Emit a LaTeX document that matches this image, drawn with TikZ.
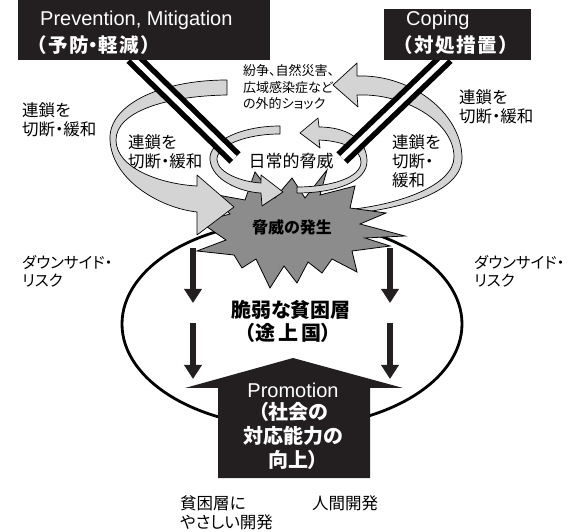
\documentclass[tikz,border=0pt]{standalone}
\usepackage{fontspec}
\setmainfont{Liberation Sans}
\newfontfamily\jp[RawFeature=+palt]{Noto Sans CJK JP}
\newfontfamily\jpf{Noto Sans CJK JP}
\usetikzlibrary{arrows.meta}
\definecolor{bandgray}{RGB}{212,212,212}
\definecolor{stargray}{RGB}{140,140,140}
\definecolor{boxblack}{RGB}{35,31,32}
\newcommand{\ks}{\kern1.5pt}
\begin{document}
\begin{tikzpicture}[x=1pt,y=-1pt,
  band/.style={fill=bandgray,draw=black,line width=0.7pt,line join=round},
  rails/.style={draw=black,double=white,line width=5.5pt,double distance=5pt},
  downarrow/.style={draw=boxblack,line width=6.5pt,-{Triangle[width=17pt,length=14pt]}},
  blackbox/.style={fill=boxblack,inner sep=0pt},
  lbl/.style={inner sep=0pt,align=left,anchor=west,font=\jp\fontsize{16.5}{19}\selectfont},
  small/.style={inner sep=0pt,align=left,anchor=west,font=\jp\fontsize{13}{16.5}\selectfont},
  risk/.style={inner sep=0pt,align=left,anchor=west,font=\jp\fontsize{15.5}{18}\selectfont},
  boxen/.style={inner sep=0pt,anchor=west,text=white,font=\fontsize{20}{24}\selectfont},
  boxjp/.style={inner sep=0pt,anchor=west,text=white,font=\jpf\bfseries\fontsize{19.5}{24}\selectfont},
  bold/.style={inner sep=0pt,align=center,font=\jp\bfseries\fontsize{20}{23}\selectfont}
]
\useasboundingbox (0,0) rectangle (574,532);

% vulnerable layer
\draw[line width=2.8pt] (292,324) ellipse [x radius=170, y radius=103];

% outer right band (behind the star)
\filldraw[band] (345,214) .. controls (400,210) and (463,192) .. (462,157)
  .. controls (461,112) and (410,74) .. (357,76) -- (357,63) -- (333,85) -- (358,107) -- (357,95)
  .. controls (405,93) and (454,122) .. (454,157) .. controls (454,185) and (400,205) .. (345,210) -- cycle;

% star
\filldraw[fill=stargray,draw=black,line width=0.8pt]
  (327,170) -- (320,195) -- (355,186) -- (350,208) -- (386,213) -- (360,224) -- (405,236)
  -- (365,238) -- (390,246) -- (352,251) -- (357,272) -- (332,259) -- (322,273) -- (308,262)
  -- (297,283) -- (284,266) -- (270,288) -- (256,259) -- (242,268) -- (234,255) -- (197,251)
  -- (226,240) -- (200,222) -- (230,214) -- (212,194) -- (245,200) -- (255,172) -- (275,198)
  -- (292,178) -- (305,198) -- cycle;
\node[inner sep=0pt,font=\jp\bfseries\fontsize{16}{19}\selectfont] (threat) at (292,227) {脅威の発生};

% outer left band
\filldraw[band] (227,80) .. controls (160,80) and (108,105) .. (110,140)
  .. controls (112,180) and (160,208) .. (197,212) -- (197,235) -- (234,207) -- (197,175) -- (197,186)
  .. controls (160,184) and (116,168) .. (116,140) .. controls (116,112) and (165,96) .. (227,95) -- cycle;
% inner right band
\filldraw[band] (297,193) .. controls (335,193) and (368,182) .. (367,160)
  .. controls (366,138) and (345,127) .. (319,127) -- (318,118) -- (300,133) -- (320,148) -- (319,140)
  .. controls (345,141) and (361,150) .. (361,162) .. controls (361,178) and (330,187) .. (297,187) -- cycle;
% inner left band
\filldraw[band] (280,126) .. controls (240,126) and (208,142) .. (210,160)
  .. controls (212,180) and (240,192) .. (261,193) -- (262,206) -- (283,192) -- (261,175) -- (261,183)
  .. controls (242,182) and (218,173) .. (217,160) .. controls (216,146) and (245,134) .. (280,134) -- cycle;

% boxes
\node[blackbox,minimum width=252pt,minimum height=60pt] (prev) at (144,30) {};
\node[blackbox,minimum width=147pt,minimum height=51pt] (cope) at (457.5,34.5) {};

% rails from boxes
\coordinate (railL) at (235,158);
\coordinate (railR) at (342,158);
\draw[rails] (prev.south) ++(-12,-3) -- (railL);
\draw[rails] (cope.south) ++(-10.5,-3) -- (railR);
\fill[boxblack] (18,0) rectangle (270,60);
\fill[boxblack] (384,9) rectangle (531,60);

\node[boxen] (prevT) at (40,20) {Prevention, Mitigation};
\node[boxjp] (prevJ) at (27,45) {（\ks 予\ks 防{\jp\bfseries ・}軽\ks 減\ks ）};
\node[boxen] (copeT) at (406,20) {Coping};
\node[boxjp] (copeJ) at (393,45) {（\ks 対\ks 処\ks 措\ks 置\ks ）};

% labels
\node[lbl] (cutLo) at (22,119.5) {連鎖を\\切断・緩和};
\node[lbl] (cutLi) at (128,151.5) {連鎖を\\切断・緩和};
\node[lbl] (cutRo) at (459,107) {連鎖を\\切断・緩和};
\node[lbl] (cutRi) at (392,161) {連鎖を\\切断・\\緩和};
\node[small] (shock) at (243,87) {紛争、自然災害、\\広域感染症など\\の外的ショック};
\node[inner sep=0pt,font=\jp\fontsize{17}{19}\selectfont] (daily) at (291,161) {日常的脅威};
\node[risk] (riskL) at (22,271) {ダウンサイド・\\リスク};
\node[risk] (riskR) at (474,271) {ダウンサイド・\\リスク};
\node[bold] (poor) at (291,310) {脆弱な貧困層};
\node[bold] (poor2) at (288,333) {（途\kern3pt 上\kern3pt 国）};

% down arrows
\coordinate (dl1) at (193,248); \coordinate (dl1e) at (193,303);
\coordinate (dl2) at (193,323); \coordinate (dl2e) at (193,379);
\coordinate (dr1) at (390,248); \coordinate (dr1e) at (390,303);
\coordinate (dr2) at (390,323); \coordinate (dr2e) at (390,379);
\draw[downarrow] (dl1) -- (dl1e);
\draw[downarrow] (dl2) -- (dl2e);
\draw[downarrow] (dr1) -- (dr1e);
\draw[downarrow] (dr2) -- (dr2e);

% promotion arrow
\fill[boxblack] (218,478) -- (218,388) -- (185,388) -- (293,358) -- (403,388) -- (370,388) -- (370,478) -- cycle;
\node[inner sep=0pt,text=white,font=\fontsize{20}{24}\selectfont] (promo) at (293,390) {Promotion};
\node[bold,text=white,font=\jp\bfseries\fontsize{20}{24}\selectfont] (promoJ) at (293,436) {（社会の\\対応能力の\\向上）};

% bottom labels
\node[lbl] (pro) at (180,512.5) {貧困層に\\やさしい開発};
\node[lbl] (human) at (312,503) {人間開発};
\end{tikzpicture}
\end{document}
